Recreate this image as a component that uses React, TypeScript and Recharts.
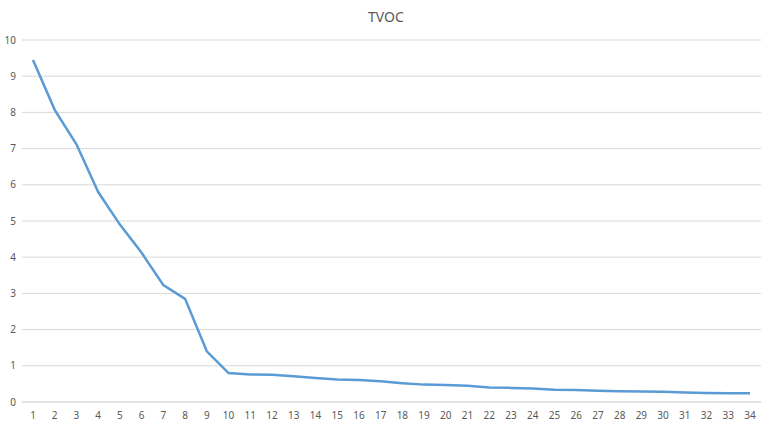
import { LineChart, Line, XAxis, YAxis, CartesianGrid } from "recharts";

const categories = [
  "1", "2", "3", "4", "5", "6", "7", "8", "9", "10", "11", "12", "13", "14", "15", "16", "17",
  "18", "19", "20", "21", "22", "23", "24", "25", "26", "27", "28", "29", "30", "31", "32", "33", "34",
];

const tvoc = [
  9.45, 8.07, 7.12, 5.8, 4.9, 4.12, 3.23, 2.85, 1.4, 0.8, 0.76, 0.75, 0.71, 0.66, 0.62, 0.61, 0.57,
  0.52, 0.48, 0.47, 0.45, 0.4, 0.39, 0.37, 0.34, 0.33, 0.31, 0.3, 0.29, 0.28, 0.26, 0.25, 0.24, 0.24,
];

const yTicks = [0, 1, 2, 3, 4, 5, 6, 7, 8, 9, 10];

const data = categories.map((name, i) => ({ name, tvoc: tvoc[i] }));

const tickStyle = { fill: "#595959", fontSize: 10, fontFamily: "Noto Sans" };

export default function App() {
  return (
    <div style={{ position: "absolute", left: 0, top: 0, width: 772, height: 426, background: "#fff" }}>
      <div
        style={{
          position: "absolute",
          top: 7,
          left: 0,
          width: 772,
          textAlign: "center",
          fontFamily: "Noto Sans",
          fontSize: 14,
          color: "#595959",
        }}
      >
        TVOC
      </div>
      <LineChart width={772} height={426} data={data} margin={{ top: 40, right: 11, left: 0, bottom: 0 }}>
        <CartesianGrid stroke="#d9d9d9" vertical={false} />
        <XAxis
          dataKey="name"
          height={24}
          padding={{ left: 11, right: 11 }}
          axisLine={{ stroke: "#d9d9d9" }}
          tickLine={false}
          tick={tickStyle}
          tickMargin={4}
          interval={0}
        />
        <YAxis
          width={22}
          domain={[0, 10]}
          ticks={yTicks}
          axisLine={false}
          tickLine={false}
          tick={tickStyle}
          tickMargin={0}
          interval={0}
        />
        <Line
          type="linear"
          dataKey="tvoc"
          stroke="#5B9BD5"
          strokeWidth={2.5}
          dot={false}
          isAnimationActive={false}
        />
      </LineChart>
    </div>
  );
}
